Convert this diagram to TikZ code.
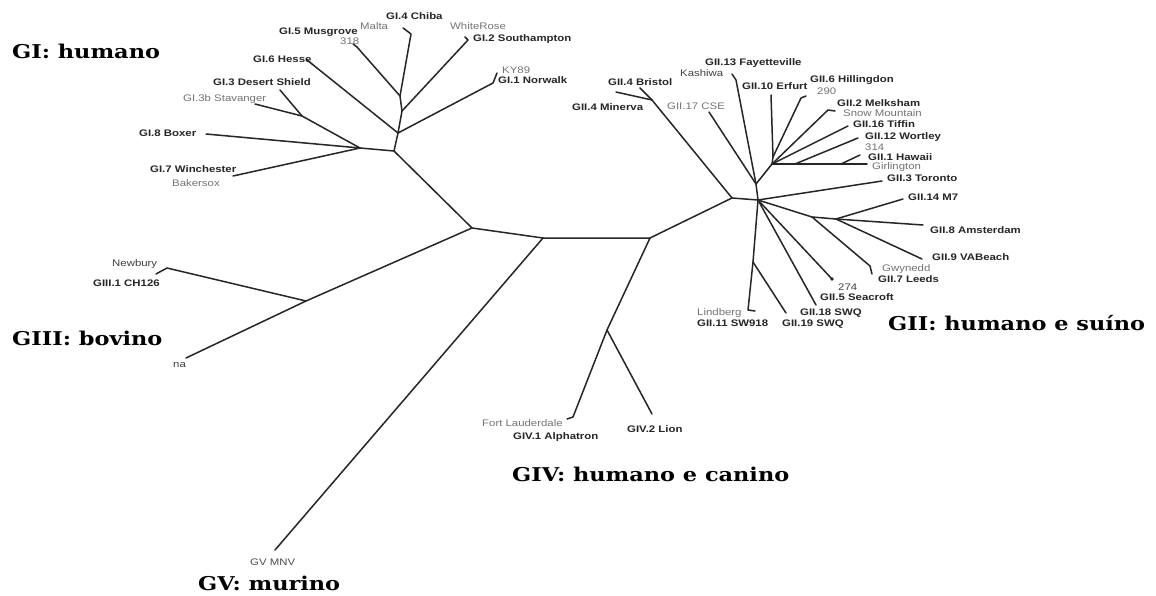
\documentclass[tikz,border=0pt]{standalone}
\usepackage{fontspec}
\newfontfamily\labfont[FakeStretch=1.2]{Liberation Sans}
\newfontfamily\grpfont[FakeStretch=1.18]{DejaVu Serif}
\begin{document}
\begin{tikzpicture}[x=1pt,y=-1pt,
  br/.style={line width=1.5pt, draw=black!85, line cap=round, line join=round},
  bl/.style={font=\labfont\bfseries\fontsize{9.5}{10}\selectfont, text=black!85, anchor=base west, inner sep=0pt},
  gl/.style={font=\labfont\fontsize{9.5}{10}\selectfont, text=black!55, anchor=base west, inner sep=0pt},
  grp/.style={font=\grpfont\bfseries\fontsize{19}{20}\selectfont, text=black, anchor=base west, inner sep=0pt}]
\useasboundingbox (0,0) rectangle (1156,596);
\fill[white] (0,0) rectangle (1156,596);

% ---------- group labels
\node[grp] (gI)   at (12,59)  {GI: humano};
\node[grp] (gIII) at (12,345) {GIII: bovino};
\node[grp] (gII)  at (888,330) {GII: humano e suíno};
\node[grp] (gIV)  at (512,481) {GIV: humano e canino};
\node[grp] (gV)   at (198,590) {GV: murino};

% ---------- tree coordinates
% roots
\coordinate (R1) at (472,228);
\coordinate (R2) at (543,238);
\coordinate (R3) at (650,238);
% GI
\coordinate (J0) at (394,151);
\coordinate (J1) at (398,133);
\coordinate (J2) at (402,111);
\coordinate (J3) at (400,96);
\coordinate (JL) at (360,148);
\coordinate (JD) at (302,116);
\coordinate (tMus) at (357,47);   \coordinate (tMusA) at (353,44);
\coordinate (tChi) at (411,34);   \coordinate (tChiA) at (403,28);
\coordinate (tSou) at (468,40);   \coordinate (tSouA) at (465,37);
\coordinate (tNor) at (493,83);   \coordinate (tNorA) at (497,73);
\coordinate (tHes) at (307,60);
\coordinate (tDS)  at (280,90);
\coordinate (tSta) at (255,104);
\coordinate (tBox) at (206,134);
\coordinate (tWin) at (233,176);
% GIII
\coordinate (JIII) at (306,301);
\coordinate (tNew) at (167,268);  \coordinate (tNewA) at (156,274);
\coordinate (tNa)  at (186,358);
% GV
\coordinate (tGV) at (275,550);
% GIV
\coordinate (JIV) at (607,330);
\coordinate (tFL) at (573,417);   \coordinate (tFLA) at (567,419);
\coordinate (tLio) at (652,414);
% GII
\coordinate (JB) at (732,198);
\coordinate (H)  at (758,200);
\coordinate (HC) at (756,184);
\coordinate (HU) at (772,164);
\coordinate (HE) at (773,157);
\coordinate (JBr) at (652,100);
\coordinate (tBri) at (640,88);
\coordinate (tMin) at (616,92);
\coordinate (tCSE) at (709,112);
\coordinate (tFay) at (736,80);   \coordinate (tFayA) at (732,74);
\coordinate (tErf) at (771,95);
\coordinate (tHil) at (801,98);   \coordinate (tHilA) at (806,96);
\coordinate (tMel) at (828,110);  \coordinate (tMelA) at (835,111);
\coordinate (tTif) at (848,126);
\coordinate (HW1) at (795,164);
\coordinate (HW2) at (841,164);
\coordinate (tWor) at (858,138);  \coordinate (tWorA) at (853,140);
\coordinate (tHaw) at (860,155);
\coordinate (tGir) at (867,164);
\coordinate (tTor) at (882,181);
\coordinate (JA1) at (812,217);
\coordinate (JM)  at (836,219);
\coordinate (tAms) at (923,225);
\coordinate (tM7)  at (903,199);
\coordinate (tVA)  at (922,259);
\coordinate (tLee) at (870,266);  \coordinate (tLeeA) at (872,274);
\coordinate (t274) at (832,279);
\coordinate (t18)  at (816,305);
\coordinate (JLi)  at (753,262);
\coordinate (tLin) at (748,310);  \coordinate (tLinA) at (755,311);
\coordinate (t19)  at (786,313);

% ---------- branches
% backbone
\draw[br] (J0) -- (R1) -- (R2) -- (R3);
\draw[br] (R1) -- (JIII);
\draw[br] (R2) -- (tGV);
\draw[br] (R3) -- (JB);
\draw[br] (R3) -- (JIV);
% GI
\draw[br] (JL) -- (J0) -- (J1) -- (J2) -- (J3) -- (tChi) -- (tChiA);
\draw[br] (J3) -- (tMus) -- (tMusA);
\draw[br] (J2) -- (tSou) -- (tSouA);
\draw[br] (J1) -- (tNor) -- (tNorA);
\draw[br] (J1) -- (tHes);
\draw[br] (JL) -- (JD) -- (tDS);
\draw[br] (JD) -- (tSta);
\draw[br] (JL) -- (tBox);
\draw[br] (JL) -- (tWin);
% GIII
\draw[br] (JIII) -- (tNew) -- (tNewA);
\draw[br] (JIII) -- (tNa);
% GIV
\draw[br] (JIV) -- (tFL) -- (tFLA);
\draw[br] (JIV) -- (tLio);
% GII
\draw[br] (JB) -- (H);
\draw[br] (JB) -- (JBr) -- (tBri);
\draw[br] (JBr) -- (tMin);
\draw[br] (H) -- (HC) -- (tCSE);
\draw[br] (HC) -- (tFay) -- (tFayA);
\draw[br] (HC) -- (HU) -- (HE) -- (tErf);
\draw[br] (HE) -- (tHil) -- (tHilA);
\draw[br] (HU) -- (tMel) -- (tMelA);
\draw[br] (HU) -- (tTif);
\draw[br] (HU) -- (HW1) -- (HW2) -- (tGir);
\draw[br] (HW1) -- (tWor) -- (tWorA);
\draw[br] (HW2) -- (tHaw);
\draw[br] (H) -- (tTor);
\draw[br] (H) -- (JA1) -- (JM) -- (tAms);
\draw[br] (JM) -- (tM7);
\draw[br] (JM) -- (tVA);
\draw[br] (JA1) -- (tLee) -- (tLeeA);
\draw[br] (H) -- (t274);
\fill[black!85] (t274) circle (1.8);
\draw[br] (H) -- (t18);
\draw[br] (H) -- (JLi) -- (tLin) -- (tLinA);
\draw[br] (JLi) -- (t19);

% ---------- leaf labels GI
\node[bl] (lMus) at (279,34.5) {GI.5 Musgrove};
\node[gl] (lMal) at (360,29.5) {Malta};
\node[gl] (l318) at (340,44.5) {318};
\node[bl] (lChi) at (386,19.5) {GI.4 Chiba};
\node[gl] (lWR)  at (450,29.5) {WhiteRose};
\node[bl] (lSou) at (473,41.5) {GI.2 Southampton};
\node[gl] (lKY)  at (502,73.5) {KY89};
\node[bl] (lNor) at (498,83.5) {GI.1 Norwalk};
\node[bl] (lHes) at (253,62.5) {GI.6 Hesse};
\node[bl] (lDS)  at (213,85.5) {GI.3 Desert Shield};
\node[gl] (lSta) at (183,101.5) {GI.3b Stavanger};
\node[bl] (lBox) at (139,136.5) {GI.8 Boxer};
\node[bl] (lWin) at (150,172.5) {GI.7 Winchester};
\node[gl] (lBak) at (172,186.5) {Bakersox};
% GIII
\node[gl,text=black!75] (lNew) at (112,266.5) {Newbury};
\node[bl] (lCH)  at (93,286.5) {GIII.1 CH126};
\node[gl,text=black!75] (lNa)  at (173,367.5) {na};
% GIV
\node[gl] (lFL)  at (482,426.5) {Fort Lauderdale};
\node[bl] (lAlp) at (513,439.5) {GIV.1 Alphatron};
\node[bl] (lLio) at (627,432.5) {GIV.2 Lion};
% GV
\node[gl,text=black!70] (lGV) at (250,565.5) {GV MNV};
% GII
\node[bl] (lBri) at (608,85.5) {GII.4 Bristol};
\node[bl] (lMin) at (572,110.5) {GII.4 Minerva};
\node[gl] (lCSE) at (667,109.5) {GII.17 CSE};
\node[bl] (lFay) at (705,65.5) {GII.13 Fayetteville};
\node[gl,text=black!75] (lKas) at (680,76.5) {Kashiwa};
\node[bl] (lErf) at (742,89.5) {GII.10 Erfurt};
\node[bl] (lHil) at (810,82.5) {GII.6 Hillingdon};
\node[gl] (l290) at (817,94.5) {290};
\node[bl] (lMel) at (837,106.5) {GII.2 Melksham};
\node[gl] (lSM)  at (843,116.5) {Snow Mountain};
\node[bl] (lTif) at (853,127.5) {GII.16 Tiffin};
\node[bl] (lWor) at (865,139.5) {GII.12 Wortley};
\node[gl] (l314) at (865,150.5) {314};
\node[bl] (lHaw) at (868,160.5) {GII.1 Hawaii};
\node[gl] (lGir) at (872,169.5) {Girlington};
\node[bl] (lTor) at (887,181.5) {GII.3 Toronto};
\node[bl] (lM7)  at (908,200.5) {GII.14 M7};
\node[bl] (lAms) at (930,233.5) {GII.8 Amsterdam};
\node[bl] (lVA)  at (932,260.5) {GII.9 VABeach};
\node[gl] (lGwy) at (882,271.5) {Gwynedd};
\node[bl] (lLee) at (878,282.5) {GII.7 Leeds};
\node[gl,text=black!75] (l274) at (838,290.5) {274};
\node[bl] (lSea) at (820,300.5) {GII.5 Seacroft};
\node[bl] (l18)  at (800,315.5) {GII.18 SWQ};
\node[bl] (l19)  at (782,326.5) {GII.19 SWQ};
\node[gl] (lLin) at (697,315.5) {Lindberg};
\node[bl] (lSW)  at (697,326.5) {GII.11 SW918};
\end{tikzpicture}
\end{document}
